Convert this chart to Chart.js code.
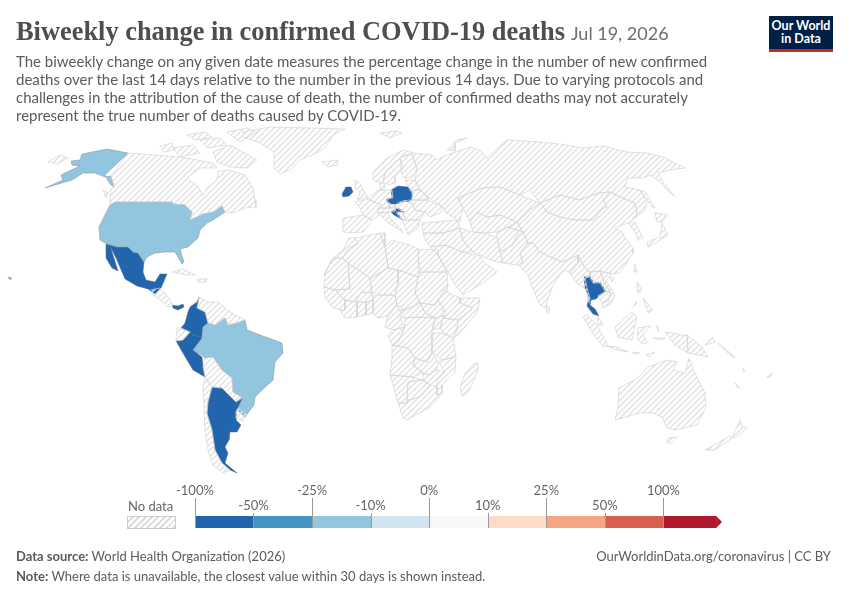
<!DOCTYPE html>
<html lang="en">
<head>
<meta charset="UTF-8">
<title>Biweekly change in confirmed COVID-19 deaths</title>
<style>
  html, body { margin: 0; padding: 0; background: #fff; }
  body { width: 850px; height: 600px; position: relative; overflow: hidden; font-family: Lato, sans-serif; color: #5b5b5b; }
  #mapChart { position: absolute; left: 0; top: 0; }
  #legendChart { position: absolute; left: 173px; top: 480px; }
  .txt { position: absolute; white-space: nowrap; }
  #title { left: 16px; top: 13px; font-family: "Liberation Serif", serif; font-weight: bold; font-size: 26.4px; line-height: 36px; color: #4e4e4e; }
  #date { left: 571px; top: 21px; font-size: 18px; line-height: 24px; color: #6e6e6e; }
  #subtitle { left: 16px; top: 52px; font-size: 15px; line-height: 18px; }
  #logo { position: absolute; left: 769px; top: 16px; width: 64px; height: 30px; padding-top: 3px; border-bottom: 3px solid #ce261e; background: #002147; color: #fff; font-weight: bold; font-size: 12.5px; line-height: 13px; text-align: center; }
  #noDataBox { position: absolute; left: 127px; top: 516px; width: 47px; height: 11px; border: 1px solid #ccc; background: repeating-linear-gradient(135deg, #fff, #fff 2.5px, #ddd 2.5px, #ddd 4.5px); }
  #noData { left: 128px; top: 498px; font-size: 13px; line-height: 16px; color: #666; }
  #source { left: 16px; top: 548px; font-size: 13px; line-height: 16px; }
  #link { right: 19px; top: 548px; font-size: 13px; line-height: 16px; }
  #note { left: 16px; top: 568px; font-size: 13px; line-height: 16px; }
</style>
</head>
<body>
<canvas id="mapChart" width="850" height="600"></canvas>
<div class="txt" id="title">Biweekly change in confirmed COVID-19 deaths</div>
<div class="txt" id="date">Jul 19, 2026</div>
<div class="txt" id="subtitle">The biweekly change on any given date measures the percentage change in the number of new confirmed<br>deaths over the last 14 days relative to the number in the previous 14 days. Due to varying protocols and<br>challenges in the attribution of the cause of death, the number of confirmed deaths may not accurately<br>represent the true number of deaths caused by COVID-19.</div>
<div id="logo">Our World<br>in Data</div>
<div class="txt" id="noData">No data</div>
<div id="noDataBox"></div>
<canvas id="legendChart" width="560" height="55"></canvas>
<div class="txt" id="source"><b>Data source:</b> World Health Organization (2026)</div>
<div class="txt" id="link">OurWorldinData.org/coronavirus | CC BY</div>
<div class="txt" id="note"><b>Note:</b> Where data is unavailable, the closest value within 30 days is shown instead.</div>

<script src="https://cdn.jsdelivr.net/npm/chart.js"></script>
<script>
// outlines, flat x,y pairs on the 850x600 map plane
const alaska = [128,153, 107,149, 82,154, 80,160, 71,161, 72,165, 80,166, 67,172, 61,175, 63,180, 45,188, 72,180, 83,173, 95,173, 105,177, 111,176, 114,187, 110,184, 105,175];
const hawaii = [8,277, 12,278, 10,280];
const usa = [110,205, 115,202, 172,202, 173,204, 185,205, 192,212, 190,220, 203,214, 213,212, 222,206, 225,212, 213,220, 207,223, 200,230, 198,238, 188,247, 180,249, 184,262, 182,264, 178,257, 175,252, 165,252, 155,253, 147,257, 144,262, 138,253, 133,252, 128,247, 117,247, 107,244, 100,240, 99,227, 105,215];
const brazil = [203,327, 208,323, 215,325, 225,318, 228,325, 237,323, 245,320, 247,330, 260,335, 282,343, 283,353, 275,362, 273,380, 262,390, 255,397, 254,405, 245,417, 237,410, 243,398, 233,392, 232,378, 222,370, 213,357, 205,358, 202,355, 193,350, 202,338];

const mexico = [106,244, 115,246, 128,247, 133,252, 138,253, 144,262, 143,272, 146,280, 155,282, 160,274, 167,274, 161,288, 155,294, 148,289, 137,286, 125,279, 122,272, 116,258, 111,248];
const baja = [106,244, 110,245, 113,255, 118,271, 112,268, 106,258];
const panama = [172,305, 178,306, 183,304, 184,307, 178,310, 173,308];
const colombia = [199,297, 197,302, 190,307, 188,312, 185,323, 181,328, 190,332, 193,335, 202,337, 203,327, 208,323, 205,312, 197,308];
const peru = [176,341, 183,340, 190,332, 193,335, 202,337, 200,342, 193,350, 202,357, 203,367, 205,377, 193,370, 187,360, 180,348];
const argentina = [212,387, 222,388, 236,402, 243,397, 238,408, 236,412, 236,420, 241,425, 237,432, 230,432, 229,440, 225,447, 228,453, 225,463, 237,473, 230,470, 222,463, 215,450, 212,430, 207,413, 208,402];
const ireland = [342,194, 346,187, 351,187, 353,192, 349,196, 343,197];
const poland = [391,190, 398,186, 408,187, 413,193, 411,201, 402,202, 392,198];
const czechia = [387,199, 392,197, 402,201, 398,204, 390,204, 386,201];
const croatia = [391,212, 398,208, 404,212, 397,212, 401,218, 403,220, 394,215];
const thailand = [584,277, 590,276, 594,283, 600,282, 606,291, 599,296, 596,299, 591,300, 590,305, 595,309, 599,316, 593,314, 587,306, 589,297, 585,288];

const canada = [128,153, 157,155, 187,158, 213,163, 217,168, 200,168, 188,177, 190,181, 197,185, 203,195, 207,188, 217,180, 218,171, 228,170, 245,175, 253,188, 255,200, 256,207, 245,208, 233,213, 225,212, 222,206, 213,212, 203,214, 190,220, 192,212, 185,205, 173,204, 172,202, 115,202, 110,205, 110,190, 114,187, 111,176];
const baffin = [213,152, 230,145, 257,160, 247,168, 230,167, 217,162];
const victoria = [173,148, 193,145, 200,153, 180,157];
const banks = [160,146, 172,143, 174,150, 163,152];
const ellesmere = [227,132, 247,128, 257,132, 240,142];
const devon = [200,140, 220,138, 227,145, 207,148];
const melville = [187,135, 205,132, 212,137, 195,140];
const vancouverIs = [103,190, 108,193, 106,198];
const greenland = [243,132, 270,127, 345,129, 333,135, 325,148, 317,153, 300,160, 290,170, 280,174, 274,168, 274,152, 260,143, 243,137];
const iceland = [322,162, 337,160, 338,165, 328,167];
const chukotka = [48,162, 60,155, 68,158, 57,164];
const cuba = [172,272, 183,269, 195,275, 187,275];
const hispaniola = [197,279, 207,279, 206,282, 198,282];
const centralAmerica = [150,290, 160,288, 164,292, 170,300, 173,306, 168,307, 160,300, 153,295];
const venezuela = [199,297, 208,302, 218,302, 230,312, 245,320, 237,323, 228,325, 225,318, 215,325, 208,323, 205,312, 197,308];
const ecuador = [177,328, 181,328, 190,332, 183,340, 176,341];
const bolivia = [213,357, 222,370, 232,378, 233,392, 243,398, 236,402, 222,388, 212,387, 205,377, 203,367, 205,358];
const chile = [205,377, 212,387, 208,402, 207,413, 212,430, 215,450, 222,463, 230,470, 223,473, 213,465, 208,450, 205,430, 204,407, 203,387];
const uruguay = [236,412, 238,408, 247,415, 243,421, 236,418];

const uk = [355,180, 360,183, 365,193, 368,197, 357,200, 360,193, 355,188];
const norway = [373,180, 373,172, 387,158, 403,150, 413,153, 403,156, 392,165, 385,173, 383,182, 377,182];
const sweden = [385,173, 392,165, 400,158, 403,168, 395,177, 395,183, 388,185, 383,182];
const finland = [400,158, 403,156, 412,155, 417,168, 413,177, 403,178, 401,170];
const spain = [343,218, 363,215, 372,220, 363,232, 347,233, 343,232];
const france = [355,202, 367,199, 382,205, 377,212, 380,215, 372,220, 363,215, 360,208];
const germany = [367,199, 378,190, 392,190, 393,198, 388,199, 387,201, 390,203, 390,208, 378,208, 382,205];
const denmark = [380,183, 385,184, 384,190, 380,190];
const austria = [378,208, 390,208, 395,205, 395,211, 392,212, 380,213, 377,212];
const hungary = [398,203, 402,201, 410,200, 415,210, 425,212, 420,220, 405,220, 403,212, 398,209, 395,205];
const balkans = [403,212, 405,220, 420,220, 418,228, 408,235, 402,219, 400,218, 396,212];
const italy = [380,213, 388,212, 390,218, 402,230, 403,233, 397,228, 388,223, 382,217];
const baltics = [405,180, 415,180, 420,190, 410,190];
const belarus = [410,190, 420,190, 428,197, 428,200, 412,200, 412,193];
const ukraine = [410,200, 428,200, 443,207, 440,213, 430,217, 425,212, 415,210];
const turkey = [422,223, 457,220, 460,228, 443,233, 423,233];
const russia = [413,153, 432,155, 436,160, 447,155, 470,147, 480,150, 487,158, 495,150, 507,140, 540,142, 560,144, 583,148, 603,146, 627,152, 647,153, 663,157, 685,168, 670,170, 658,173, 663,182, 675,197, 667,190, 658,180, 650,175, 643,178, 628,178, 625,187, 640,190, 647,203, 645,210, 635,218, 637,213, 635,203, 627,200, 610,192, 598,193, 580,200, 560,195, 540,203, 530,190, 520,195, 500,187, 482,188, 458,198, 463,208, 460,222, 445,212, 443,207, 428,197, 420,190, 415,180, 417,168, 412,155];
const novayaZemlya = [447,150, 457,140, 467,138, 455,143, 455,151];
const svalbard = [380,133, 397,131, 402,133, 390,138];
const sakhalin = [640,190, 645,192, 655,208, 652,207];
const kazakhstan = [458,198, 482,188, 500,187, 520,195, 540,203, 530,210, 517,222, 500,215, 487,217, 477,212, 470,222, 463,208];
const uzbekistan = [470,222, 477,212, 487,217, 500,215, 517,222, 508,227, 497,232, 485,233, 473,232];
const kyrgyzstan = [517,222, 523,232, 508,227];
const iran = [459,228, 473,232, 485,233, 497,237, 500,252, 503,263, 490,260, 473,252, 463,240];
const afghanistan = [497,237, 497,232, 508,227, 523,232, 517,236, 513,245, 500,252];
const pakistan = [500,252, 513,245, 517,236, 523,232, 528,243, 520,253, 523,262, 518,265, 503,263];
const iraq = [423,233, 443,233, 460,228, 463,240, 473,252, 462,252, 445,245, 430,247, 425,240];
const saudi = [430,247, 445,245, 462,252, 480,256, 484,262, 497,272, 483,283, 463,295, 455,285, 448,272, 438,255];
const india = [528,243, 533,243, 540,252, 562,262, 578,255, 578,263, 570,273, 564,270, 553,285, 545,308, 540,305, 532,287, 528,275, 518,265, 523,262, 520,253];
const sriLanka = [546,305, 550,308, 549,313, 547,313];
const mongolia = [540,203, 560,195, 580,200, 598,193, 610,192, 603,200, 607,207, 603,208, 593,220, 575,220, 560,217, 547,212];
const china = [523,232, 517,222, 530,210, 540,203, 547,212, 560,217, 575,220, 593,220, 603,208, 607,207, 603,200, 610,192, 627,200, 635,203, 637,213, 635,218, 628,223, 615,228, 622,232, 625,238, 633,248, 633,253, 620,273, 612,274, 600,271, 590,272, 585,268, 578,255, 562,262, 540,252, 533,243, 528,243];
const korea = [628,223, 635,222, 643,238, 638,240, 635,232];
const hokkaido = [655,213, 667,215, 662,222, 657,222];
const honshu = [662,223, 668,235, 657,242, 648,247, 647,242, 660,237];
const taiwan = [635,264, 637,272, 634,272];
const hainan = [610,277, 614,278, 612,282];
const myanmar = [578,255, 585,268, 590,272, 590,277, 585,278, 587,288, 590,298, 589,303, 586,290, 577,283, 570,273, 578,263];
const laos = [590,272, 600,271, 604,282, 611,293, 605,291, 600,283, 593,283, 590,277];
const vietnam = [600,271, 612,274, 606,281, 615,295, 611,304, 603,308, 602,303, 609,300, 611,293, 604,282];
const cambodia = [605,291, 611,293, 609,300, 602,303, 598,296];
const malaya = [597,315, 603,325, 598,325];
const sumatra = [583,317, 587,315, 597,325, 608,345, 603,347, 592,332];
const borneo = [615,327, 632,312, 637,317, 632,340, 618,337];
const java = [607,346, 617,347, 628,352, 617,350];
const sunda1 = [632,352, 640,353, 635,354];
const sunda2 = [646,355, 655,352, 650,357];
const sulawesi = [638,328, 651,326, 643,333, 647,343, 642,344, 637,338];
const luzon = [637,282, 642,290, 638,293];
const mindanao = [643,298, 653,310, 648,313];
const palawan = [633,307, 637,301, 635,305];
const halmahera = [657,325, 659,332, 657,330];
const seram = [653,338, 665,338, 660,340];
const papua = [665,332, 673,333, 680,335, 687,335, 688,353, 675,345];
const png = [687,335, 702,347, 708,357, 698,355, 688,353];
const newBritain = [705,345, 713,337, 715,342];
const solomon = [718,343, 735,357, 732,357];
const vanuatu = [743,368, 745,372, 743,371];
const newCaledonia = [735,383, 740,388, 737,387];
const fiji = [767,377, 773,373, 770,377];
const australia = [615,420, 618,407, 619,388, 638,378, 648,367, 667,360, 677,362, 673,370, 685,373, 689,358, 695,373, 705,393, 706,407, 697,425, 675,430, 667,428, 662,417, 653,413, 640,413];
const tasmania = [668,438, 677,437, 672,443, 667,443];
const nzNorth = [732,437, 740,420, 742,427, 747,428, 735,438];
const nzSouth = [705,450, 730,436, 732,438, 715,450];

const madagascar = [475,363, 478,363, 477,373, 468,393, 462,396, 460,387, 465,373];
const morocco = [324,275, 333,258, 343,250, 349,238, 355,238, 358,244, 349,248, 342,258, 333,258];
const mauritania = [325,273, 333,258, 342,258, 348,263, 350,289, 335,290, 324,287];
const algeria = [349,248, 358,244, 355,238, 380,233, 383,242, 385,247, 388,268, 370,278, 348,263, 342,258];
const tunisia = [380,233, 385,233, 385,247, 383,242];
const libya = [385,247, 392,240, 410,245, 418,249, 419,277, 398,270, 388,268];
const egypt = [418,249, 438,250, 438,255, 447,272, 420,272];
const sudan = [418,277, 420,272, 447,272, 448,285, 438,300, 435,305, 420,303, 415,293];
const chad = [398,270, 418,277, 415,293, 420,303, 405,310, 397,305, 395,295, 398,283];
const niger = [373,278, 388,268, 398,270, 398,283, 395,295, 383,295, 372,293, 370,278];
const mali = [348,263, 370,278, 372,293, 362,292, 355,302, 345,300, 335,290, 350,289];
const senegal = [324,287, 335,290, 345,300, 345,310, 340,310, 332,307, 325,297];
const ivoryCoast = [345,300, 357,302, 357,317, 345,318, 340,310, 345,310];
const burkina = [355,302, 362,292, 372,293, 373,300, 366,302, 357,302];
const ghana = [357,302, 366,302, 366,315, 357,317];
const benin = [366,302, 373,300, 373,313, 366,315];
const nigeria = [373,296, 383,295, 395,295, 397,305, 388,316, 378,318, 373,313];
const cameroon = [397,305, 400,310, 405,310, 400,318, 405,327, 393,330, 385,327, 388,316];
const car = [400,310, 405,310, 420,303, 425,313, 435,318, 418,317, 405,318, 400,318];
const southSudan = [420,303, 435,305, 438,300, 443,308, 447,315, 435,318, 425,313];
const ethiopia = [447,292, 460,298, 460,303, 473,308, 458,320, 443,318, 443,308, 438,300, 448,285];
const somalia = [460,298, 480,298, 477,313, 458,335, 453,338, 457,330, 458,320, 473,308, 460,303];
const kenya = [443,318, 458,320, 457,330, 453,338, 443,333, 440,328];
const uganda = [435,318, 447,315, 443,318, 440,328, 432,330];
const tanzania = [432,333, 443,333, 453,338, 456,357, 442,360, 432,352];
const drc = [405,318, 418,317, 435,318, 432,333, 432,352, 427,362, 415,358, 408,348, 392,345, 398,342, 405,327];
const gabon = [393,330, 405,327, 398,342, 392,345, 388,335];
const angola = [392,345, 408,348, 415,358, 413,365, 423,373, 412,377, 390,375, 392,358];
const zambia = [413,365, 415,358, 427,362, 432,352, 438,362, 437,370, 428,375, 423,373];
const mozambique = [442,360, 456,357, 455,372, 442,385, 442,393, 437,395, 437,380, 445,372, 438,362];
const zimbabwe = [423,373, 428,375, 437,370, 445,372, 437,380, 430,385, 423,380];
const namibia = [390,375, 412,377, 423,380, 408,382, 407,403, 398,403];
const botswana = [408,382, 423,380, 430,385, 420,397, 410,400, 407,400];
const southAfrica = [407,403, 407,400, 410,400, 420,397, 430,385, 437,386, 437,395, 442,393, 430,407, 407,420, 403,418, 398,403];

const noDataShapes = [canada, baffin, victoria, banks, ellesmere, devon, melville, vancouverIs, greenland, iceland, chukotka, cuba, hispaniola, centralAmerica, venezuela, ecuador, bolivia, chile, uruguay,
  uk, norway, sweden, finland, spain, france, germany, denmark, austria, hungary, balkans, italy, baltics, belarus, ukraine, turkey, russia, novayaZemlya, svalbard, sakhalin,
  kazakhstan, uzbekistan, kyrgyzstan, iran, afghanistan, pakistan, iraq, saudi, india, sriLanka, mongolia, china, korea, hokkaido, honshu, taiwan, hainan, myanmar, laos, vietnam, cambodia, malaya,
  sumatra, borneo, java, sunda1, sunda2, sulawesi, luzon, mindanao, palawan, halmahera, seram, papua, png, newBritain, solomon, vanuatu, newCaledonia, fiji, australia, tasmania, nzNorth, nzSouth,
  madagascar, morocco, mauritania, algeria, tunisia, libya, egypt, sudan, chad, niger, mali, senegal, ivoryCoast, burkina, ghana, benin, nigeria, cameroon, car, southSudan, ethiopia, somalia, kenya, uganda, tanzania, drc, gabon, angola, zambia, mozambique, zimbabwe, namibia, botswana, southAfrica];
const from100to50 = [mexico, baja, panama, colombia, peru, argentina, ireland, poland, czechia, croatia, thailand];
const from25to10 = [alaska, hawaii, usa, brazil];

const tickLabels = ['-100%', '-50%', '-25%', '-10%', '0%', '10%', '25%', '50%', '100%'];
const binColors = ['#2166ac', '#4393c3', '#92c5de', '#d1e5f0', '#f7f7f7', '#fddbc7', '#f4a582', '#d6604d', '#b2182b'];
const binWidths = [1, 1, 1, 1, 1, 1, 1, 1, 0.9];

function makeHatch() {
  const tile = document.createElement('canvas');
  tile.width = 6;
  tile.height = 6;
  const c = tile.getContext('2d');
  c.strokeStyle = '#e3e3e3';
  c.lineWidth = 1.5;
  c.beginPath();
  c.moveTo(-1, 7); c.lineTo(7, -1);
  c.moveTo(-1, 1); c.lineTo(1, -1);
  c.moveTo(5, 7); c.lineTo(7, 5);
  c.stroke();
  return document.getElementById('mapChart').getContext('2d').createPattern(tile, 'repeat');
}

function shapeDataset(flat, fillColor, edgeColor, edgeWidth) {
  const points = [];
  for (let i = 0; i < flat.length; i += 2) {
    points.push({ x: flat[i], y: flat[i + 1] });
  }
  points.push({ x: flat[0], y: flat[1] });
  return {
    data: points,
    fill: 'shape',
    backgroundColor: fillColor,
    borderColor: edgeColor,
    borderWidth: edgeWidth,
    pointRadius: 0,
    tension: 0,
    clip: false
  };
}

const hatch = makeHatch();
const mapDatasets = [];
noDataShapes.forEach(s => mapDatasets.push(shapeDataset(s, hatch, '#d4d4d4', 0.7)));
from25to10.forEach(s => mapDatasets.push(shapeDataset(s, binColors[2], '#8a9aa5', 0.6)));
from100to50.forEach(s => mapDatasets.push(shapeDataset(s, binColors[0], '#5a6f85', 0.5)));

new Chart(document.getElementById('mapChart'), {
  type: 'line',
  data: { datasets: mapDatasets },
  options: {
    responsive: false,
    animation: false,
    events: [],
    plugins: { legend: { display: false }, tooltip: { enabled: false } },
    layout: { padding: 0 },
    scales: {
      x: { type: 'linear', display: false, min: 0, max: 850 },
      y: { type: 'linear', display: false, min: 0, max: 600, reverse: true }
    }
  }
});

// tick lines and the arrow head at the end of the colour bar
const legendMarks = {
  id: 'legendMarks',
  afterDatasetsDraw(chart) {
    const c = chart.ctx;
    const sx = chart.scales.x;
    const a = chart.chartArea;
    c.save();
    c.strokeStyle = '#999';
    c.lineWidth = 1;
    tickLabels.forEach((t, i) => {
      const x = Math.round(sx.getPixelForValue(i)) + 0.5;
      c.beginPath();
      c.moveTo(x, a.bottom);
      c.lineTo(x, i % 2 === 0 ? 18 : 33);
      c.stroke();
    });
    c.fillStyle = binColors[8];
    c.beginPath();
    c.moveTo(sx.getPixelForValue(8.9), a.top);
    c.lineTo(sx.getPixelForValue(9), (a.top + a.bottom) / 2);
    c.lineTo(sx.getPixelForValue(8.9), a.bottom);
    c.closePath();
    c.fill();
    c.restore();
  }
};

new Chart(document.getElementById('legendChart'), {
  type: 'bar',
  data: {
    labels: [''],
    datasets: binColors.map((col, i) => ({
      data: [binWidths[i]],
      backgroundColor: col,
      barPercentage: 1,
      categoryPercentage: 1
    }))
  },
  options: {
    indexAxis: 'y',
    responsive: false,
    animation: false,
    events: [],
    plugins: { legend: { display: false }, tooltip: { enabled: false } },
    layout: { padding: { left: 15, right: 11, top: 0, bottom: 7 } },
    scales: {
      y: { stacked: true, display: false },
      x: {
        stacked: true,
        position: 'top',
        min: 0,
        max: 9,
        afterFit(scale) { scale.height = 36; },
        grid: { display: false, drawTicks: false },
        border: { display: false },
        ticks: {
          stepSize: 1,
          autoSkip: false,
          maxRotation: 0,
          padding: 3,
          color: '#666',
          font: { family: 'Lato', size: 13, lineHeight: 1.15 },
          callback(v) {
            if (v >= tickLabels.length) return '';
            return v % 2 === 0 ? [tickLabels[v], ''] : ['', tickLabels[v]];
          }
        }
      }
    }
  },
  plugins: [legendMarks]
});
</script>
</body>
</html>
